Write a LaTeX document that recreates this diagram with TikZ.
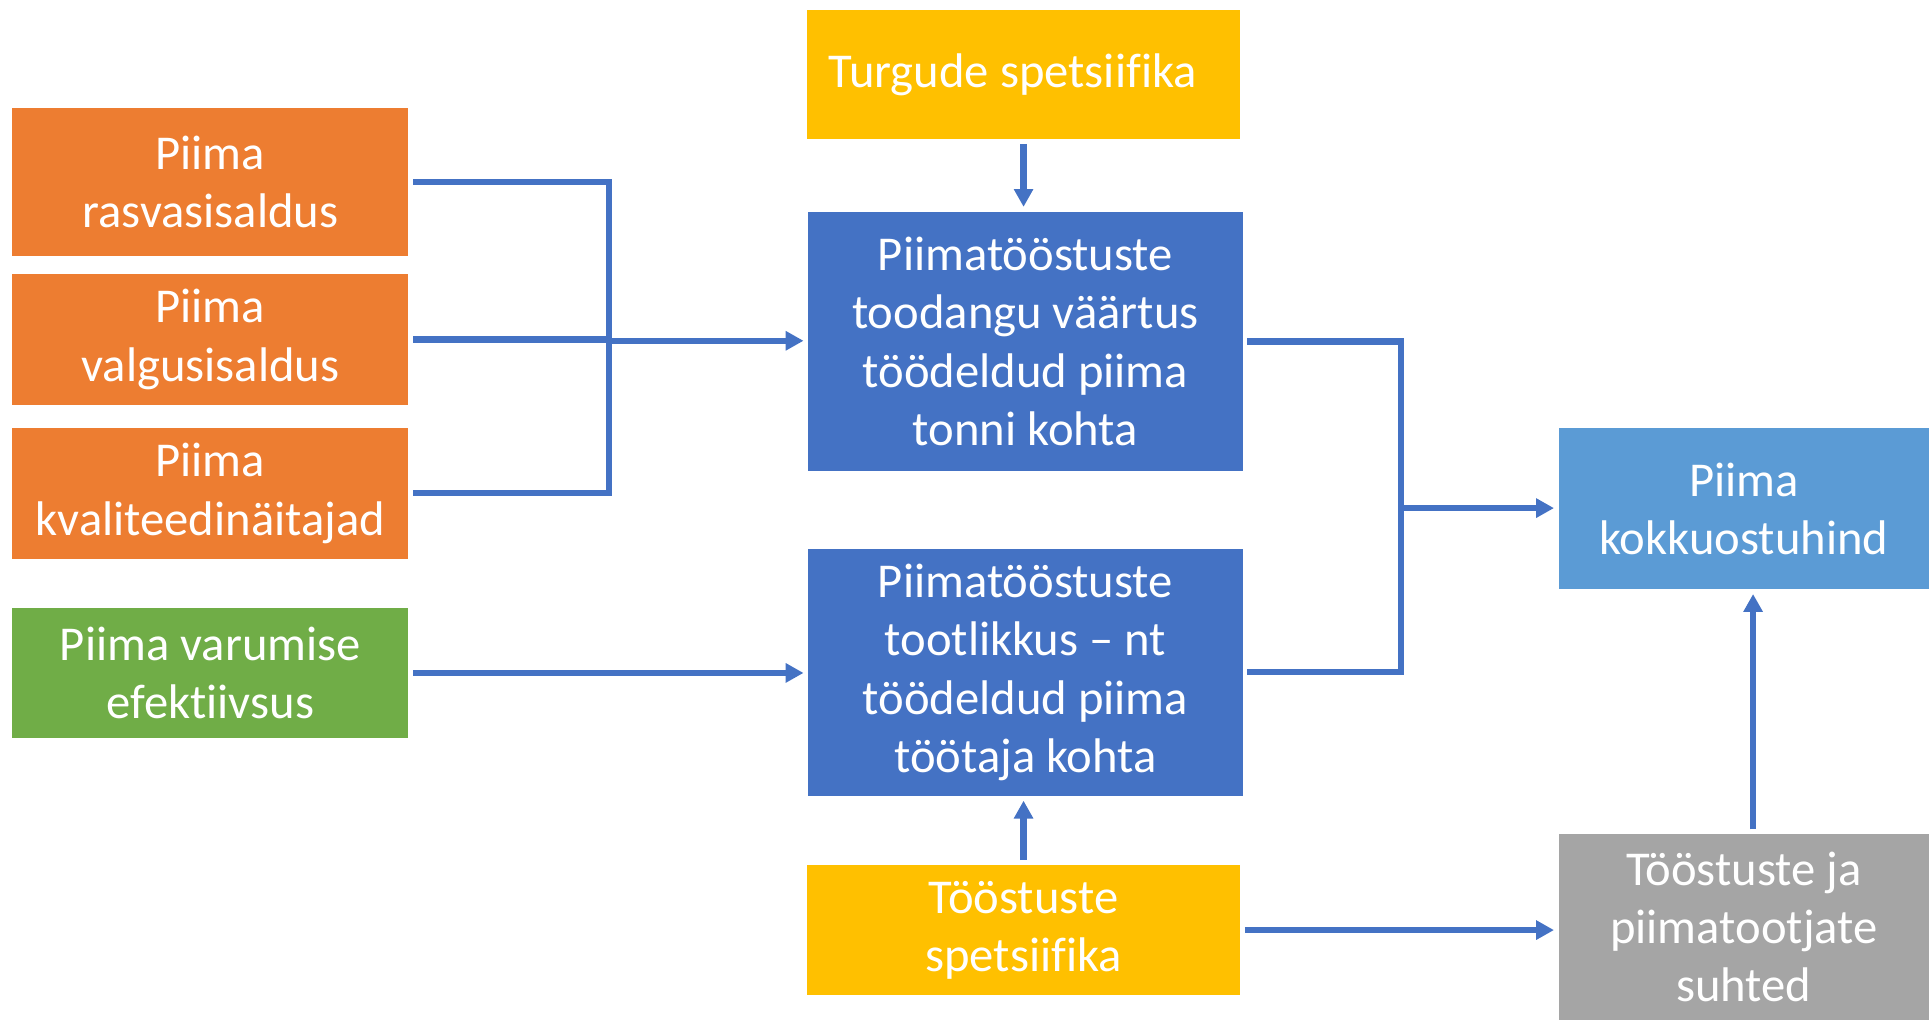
\documentclass[tikz,border=0pt]{standalone}
\usepackage{fontspec}
\setmainfont{Carlito}[Ligatures={NoCommon}]
\usetikzlibrary{arrows.meta}
\definecolor{corange}{HTML}{ED7D31}
\definecolor{cgreen}{HTML}{70AD47}
\definecolor{cblue}{HTML}{4472C4}
\definecolor{cgold}{HTML}{FFC000}
\definecolor{clblue}{HTML}{5B9BD5}
\definecolor{cgray}{HTML}{A5A5A5}
\tikzset{
  box/.style={rectangle, inner sep=0pt, text=white, align=center,
    font=\fontsize{22.5}{27}\selectfont},
  line/.style={draw=cblue, line width=2.9pt},
  arr/.style={line, -{Triangle[length=0.29cm,width=0.3cm]}, shorten >=2pt},
}
\begin{document}
\begin{tikzpicture}[x=0.02cm,y=-0.02cm]
\useasboundingbox (0,0) rectangle (1568,829);
\node[box, fill=cgold, minimum width=7.04cm, minimum height=2.10cm] (turg) at (832,60.5) {Turgude spetsiifika\hspace*{0.45em}};
\node[box, fill=corange, minimum width=6.44cm, minimum height=2.40cm] (rasv) at (171,148) {Piima\\rasvasisaldus};
\node[box, fill=corange, minimum width=6.44cm, minimum height=2.14cm] (valg) at (171,276) {Piima\\valgusisaldus};
\node[box, fill=corange, minimum width=6.44cm, minimum height=2.12cm] (kval) at (171,401) {Piima\\kvaliteedinäitajad};
\node[box, fill=cgreen, minimum width=6.44cm, minimum height=2.12cm] (varu) at (171,547) {Piima varumise\\efektiivsus};
\node[box, fill=cblue, minimum width=7.06cm, minimum height=4.22cm] (tood) at (833.5,277.5) {Piimatööstuste\\toodangu väärtus\\töödeldud piima\\tonni kohta};
\node[box, fill=cblue, minimum width=7.06cm, minimum height=4.02cm] (tootl) at (833.5,546.5) {Piimatööstuste\\tootlikkus – nt\\töödeldud piima\\töötaja kohta};
\node[box, fill=cgold, minimum width=7.04cm, minimum height=2.12cm] (toost) at (832,756) {Tööstuste\\spetsiifika};
\node[box, fill=clblue, minimum width=6.02cm, minimum height=2.62cm] (hind) at (1417.5,413.5) {Piima\\kokkuostuhind};
\node[box, fill=cgray, minimum width=6.02cm, minimum height=3.02cm] (suhted) at (1417.5,753.5) {Tööstuste ja\\piimatootjate\\suhted};

\coordinate (busL) at (495,277);
\coordinate (busR) at (1139,413);
\coordinate (upx) at (1425,0);

\draw[line] ([xshift=2pt]rasv.east) -| (busL) |- ([xshift=2pt]kval.east);
\draw[line] ([xshift=2pt]valg.east) -- (valg.east -| busL);
\draw[arr] (busL) -- (busL -| tood.west);
\draw[arr] ([xshift=2pt]varu.east) -- (varu.east -| tootl.west);
\draw[arr] ([yshift=-2pt]turg.south) -- (turg.south |- tood.north);
\draw[arr] ([yshift=2pt]toost.north) -- (toost.north |- tootl.south);
\draw[line] ([xshift=2pt]tood.east) -| (busR) |- ([xshift=2pt]tootl.east);
\draw[arr] (busR) -- (busR -| hind.west);
\draw[arr] ([xshift=2pt]toost.east) -- (toost.east -| suhted.west);
\draw[arr] ([yshift=2pt]suhted.north -| upx) -- (hind.south -| upx);
\end{tikzpicture}
\end{document}
